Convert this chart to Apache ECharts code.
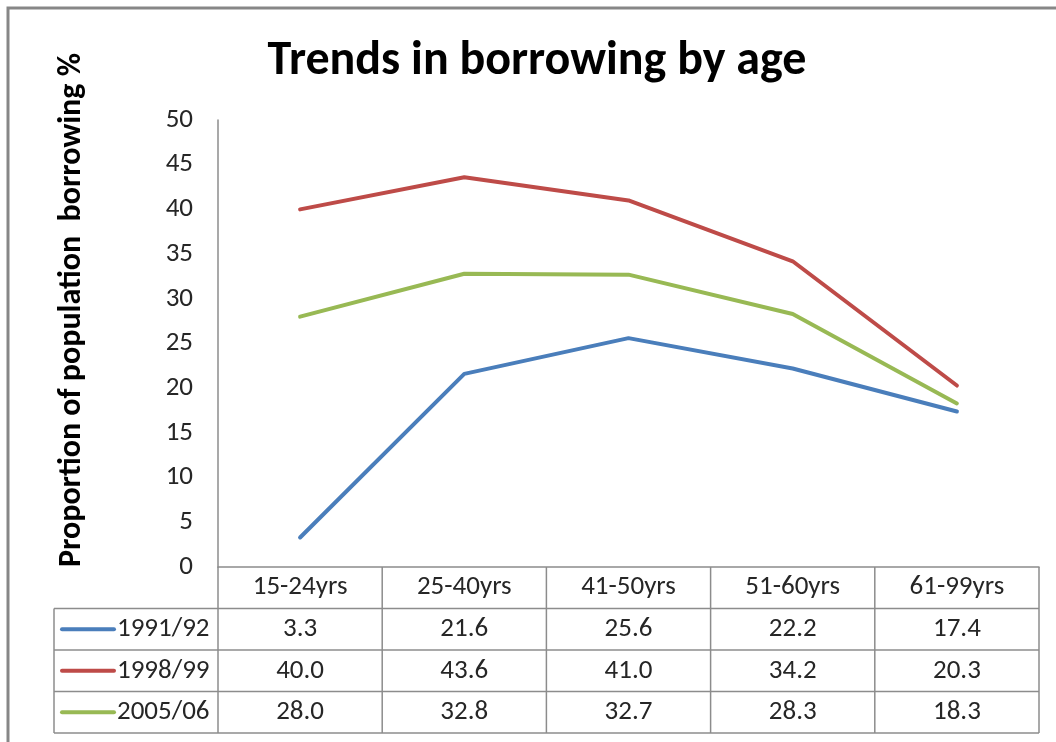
<!DOCTYPE html>
<html><head><meta charset="utf-8">
<script src="https://cdn.jsdelivr.net/npm/echarts/dist/echarts.min.js"></script>
<style>html,body{margin:0;padding:0;background:#fff}#c{width:1056px;height:742px}</style>
</head><body><div id="c"></div>
<script>
const categories = ['15-24yrs', '25-40yrs', '41-50yrs', '51-60yrs', '61-99yrs'];
const seriesNames = ['1991/92', '1998/99', '2005/06'];
const s1991 = [3.3, 21.6, 25.6, 22.2, 17.4];
const s1998 = [40.0, 43.6, 41.0, 34.2, 20.3];
const s2005 = [28.0, 32.8, 32.7, 28.3, 18.3];
const yMin = 0, yMax = 50, yStep = 5;
const titleText = 'Trends in borrowing by age';
const yTitle = 'Proportion of population  borrowing %';

const seriesData = [s1991, s1998, s2005];
const colors = ['#4A7EBB', '#BE4B48', '#98B954'];
const FONT = 'Carlito, Lato, "Open Sans", sans-serif';
const gridColor = '#8c8c8c';
const textColor = '#262626';
const fs = 27;

const chart = echarts.init(document.getElementById('c'), null, {renderer: 'canvas'});
chart.setOption({
  animation: false,
  backgroundColor: '#fff',
  grid: {left: 218, right: 17, top: 120, bottom: 175, containLabel: false},
  xAxis: {
    type: 'category', data: categories, boundaryGap: true,
    axisLine: {lineStyle: {color: gridColor, width: 1.5}},
    axisTick: {show: false},
    axisLabel: {fontFamily: FONT, fontSize: fs, color: textColor, margin: 7, interval: 0}
  },
  yAxis: {
    type: 'value', min: yMin, max: yMax, interval: yStep,
    axisLine: {show: true, lineStyle: {color: gridColor, width: 1.5}},
    axisTick: {show: false}, splitLine: {show: false},
    axisLabel: {fontFamily: FONT, fontSize: fs, color: textColor, margin: 25}
  },
  series: seriesNames.map((n, i) => ({
    name: n, type: 'line', data: seriesData[i], symbol: 'none',
    lineStyle: {color: colors[i], width: 4, cap: 'round', join: 'round'}, silent: true
  }))
});

// Build data table aligned to the category axis
const xs = categories.map((c, i) => chart.convertToPixel({xAxisIndex: 0}, i));
const bw = xs[1] - xs[0];
const y0 = chart.convertToPixel({yAxisIndex: 0}, 0);
const rh = 41.5;
const left = 54, right = xs[xs.length - 1] + bw / 2;
const g = [];
g.push({type: 'rect', shape: {x: 8, y: 8, width: 1070, height: 760},
  style: {fill: 'none', stroke: '#878787', lineWidth: 3}, silent: true});
g.push({type: 'text', x: 537, y: 62, style: {text: titleText, fontFamily: FONT, fontSize: 48,
  fontWeight: 'bold', fill: '#000', align: 'center', verticalAlign: 'middle'}});
g.push({type: 'text', x: 72, y: 310, rotation: Math.PI / 2, style: {text: yTitle, fontFamily: FONT, fontSize: 32,
  fontWeight: 'bold', fill: '#000', align: 'center', verticalAlign: 'middle'}});
for (let k = 1; k <= 4; k++) {
  const yy = y0 + rh * k;
  g.push({type: 'line', shape: {x1: left, y1: yy, x2: right, y2: yy}, style: {stroke: gridColor, lineWidth: 1.5}});
}
g.push({type: 'line', shape: {x1: left, y1: y0 + rh, x2: left, y2: y0 + 4 * rh}, style: {stroke: gridColor, lineWidth: 1.5}});
for (let j = 0; j <= categories.length; j++) {
  const xx = xs[0] - bw / 2 + j * bw;
  g.push({type: 'line', shape: {x1: xx, y1: y0, x2: xx, y2: y0 + 4 * rh}, style: {stroke: gridColor, lineWidth: 1.5}});
}
seriesNames.forEach((n, i) => {
  const cy = y0 + rh * (i + 1.5);
  g.push({type: 'line', shape: {x1: 62, y1: cy, x2: 114, y2: cy}, style: {stroke: colors[i], lineWidth: 4, lineCap: 'round'}});
  g.push({type: 'text', x: 117, y: cy, style: {text: n, fontFamily: FONT, fontSize: fs, fill: textColor, align: 'left', verticalAlign: 'middle'}});
  seriesData[i].forEach((v, j) => {
    g.push({type: 'text', x: xs[j], y: cy, style: {text: v.toFixed(1), fontFamily: FONT, fontSize: fs, fill: textColor, align: 'center', verticalAlign: 'middle'}});
  });
});
chart.setOption({graphic: {elements: g}});
</script>
</body></html>
